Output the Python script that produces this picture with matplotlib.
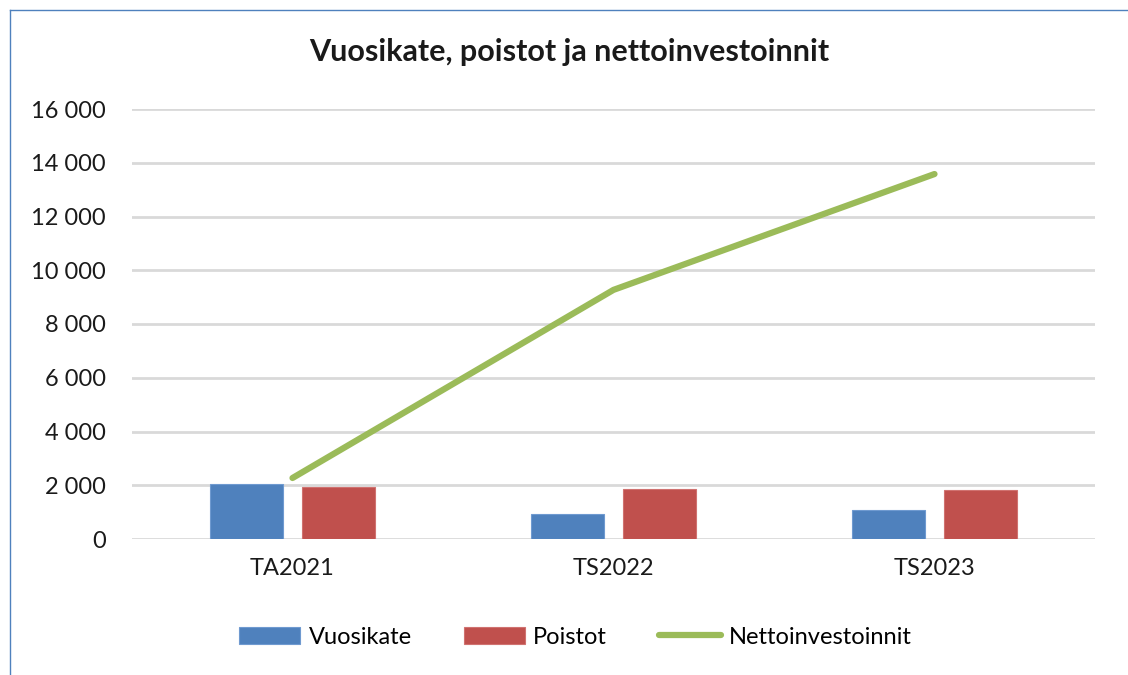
import matplotlib.pyplot as plt
import numpy as np
from matplotlib.lines import Line2D
from matplotlib.ticker import FuncFormatter

categories = ['TA2021', 'TS2022', 'TS2023']
vuosikate = [2030, 930, 1080]
poistot = [1920, 1860, 1820]
nettoinvestoinnit = [2270, 9270, 13580]

plt.rcParams['font.family'] = ['Lato', 'DejaVu Sans']

fig = plt.figure(figsize=(11.28, 6.75), dpi=100)
ax = fig.add_axes([132 / 1128, 1 - 539 / 675, 963 / 1128, 430 / 675])

x = np.arange(len(categories)) + 0.5
w = 0.225
off = 0.143
b1 = ax.bar(x - off, vuosikate, w, color='#4f81bd', edgecolor='#6f9ad0', linewidth=0.8,
            label='Vuosikate', zorder=3)
b2 = ax.bar(x + off, poistot, w, color='#c0504d', edgecolor='#d07270', linewidth=0.8,
            label='Poistot', zorder=3)
l1, = ax.plot(x, nettoinvestoinnit, color='#9bbb59', linewidth=4.5, solid_capstyle='round',
              label='Nettoinvestoinnit', zorder=4)

ax.set_xlim(0, 3)
ax.set_ylim(0, 16000)
ax.set_yticks(np.arange(0, 16001, 2000))
ax.yaxis.set_major_formatter(FuncFormatter(lambda v, p: f'{int(v):,}'.replace(',', ' ')))
ax.set_xticks(x)
ax.set_xticklabels(categories)
ax.grid(axis='y', color='#d9d9d9', linewidth=2, zorder=0)
ax.set_axisbelow(True)
for s in ax.spines.values():
    s.set_visible(False)
ax.tick_params(length=0, labelsize=17, colors='#1a1a1a')
ax.tick_params(axis='y', pad=19)
ax.tick_params(axis='x', pad=14)

fig.text(0.505, 1 - 52 / 675, 'Vuosikate, poistot ja nettoinvestoinnit',
         ha='center', va='center', fontsize=22, fontweight='bold', color='#1a1a1a')

fig.legend([b1, b2, l1], ['Vuosikate', 'Poistot', 'Nettoinvestoinnit'],
           loc='center', bbox_to_anchor=(0.51, 1 - 637 / 675), ncol=3, frameon=False,
           fontsize=17, handlelength=2.6, handleheight=0.7, columnspacing=2.2,
           handletextpad=0.35)

# chart border (left and top only visible)
fig.add_artist(Line2D([9.5 / 1128, 9.5 / 1128], [0, 1 - 9.5 / 675], color='#4f81bd', linewidth=1))
fig.add_artist(Line2D([9.5 / 1128, 1], [1 - 9.5 / 675, 1 - 9.5 / 675], color='#4f81bd', linewidth=1))

fig.savefig('out.png', dpi=100)
